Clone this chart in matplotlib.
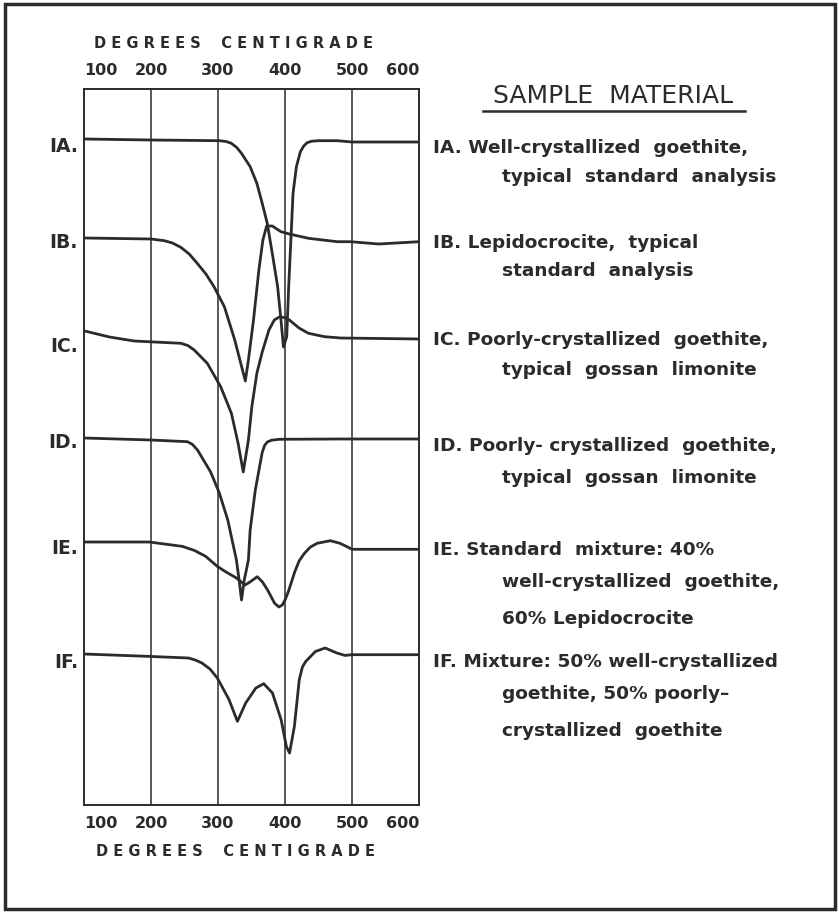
import matplotlib
matplotlib.use('Agg')
from matplotlib import pyplot as plt
from matplotlib.patches import Rectangle
from matplotlib.lines import Line2D

# temperature (deg C) and deflection for each DTA curve
temp_a = [100, 200, 302, 312, 320, 328, 335, 348, 358, 366, 373.5, 381, 389, 394, 397.7,
          402.6, 405.5, 409, 412, 417, 423, 428, 433, 440, 450, 478, 500, 600]
sig_a = [0, -1, -1.7, -2.5, -4.3, -8.5, -14.3, -27.7, -44.3, -64.3, -84.3, -114.3, -147.7,
         -181, -208, -197.7, -147.7, -97.7, -54.3, -27.7, -12.7, -7, -3.7, -2.2, -1.7, -1.7,
         -3, -3]

temp_b = [101, 200, 220, 232, 244.5, 257, 269, 282, 294, 309.5, 325, 334.6, 340.8, 345.4,
          353, 361, 367, 372.6, 381, 394, 406.5, 435, 478, 498, 540, 600]
sig_b = [0, -1, -2.7, -5, -9.3, -16, -25.3, -36, -48.7, -68.7, -102, -127, -143, -122,
         -82, -32, -2, 12, 12, 6.3, 4, -0.3, -3.7, -3.7, -6, -3.7]

temp_c = [101, 138, 175, 205, 244.5, 255, 264.5, 284, 304, 320, 330, 337.7, 345.4, 350.5,
          358, 366, 371.5, 376, 384, 391.5, 399, 406.5, 421, 435, 459, 483, 600]
sig_c = [0, -6, -10, -11, -12.3, -14.5, -19, -32.3, -55.7, -82.3, -112.3, -141, -109,
         -75.7, -42.3, -21, -9, 1, 11, 14, 13.5, 11, 3, -2.3, -5.7, -7, -8]

temp_d = [100, 200, 254.5, 262, 269.4, 289, 302, 314.6, 327.5, 331.5, 335.1, 339.2,
          345.4, 348, 355.7, 365.8, 369.5, 373.5, 380, 391.5, 478, 600]
sig_d = [0, -2, -3.7, -6.5, -12, -34, -55, -82, -122, -142, -162, -142,
         -122, -92, -52, -15, -7.5, -4, -2.2, -1.3, -1, -1]

temp_e = [100, 197.5, 247, 265, 281.7, 299, 312, 327.5, 340.4, 347.7, 358.6, 366.4, 374,
          384.5, 391, 396, 400, 404.8, 414.5, 421, 429, 438, 448, 467.6, 482, 492, 500, 600]
sig_e = [0, 0, -4.4, -8.5, -14.4, -24.4, -30, -36, -43, -40, -34.7, -40, -48,
         -61.3, -65, -63, -58, -50, -30, -19, -11.3, -5, -1.3, 1.3, -1.3, -4.5, -7.3, -7.3]

temp_f = [100, 197.5, 256, 266, 276, 288, 299, 316.5, 329, 341.3, 356.5, 368.3, 381.3,
          394.2, 402, 406.8, 414, 421.3, 426, 431, 445.5, 460, 477.4, 489.4, 500, 600]
sig_f = [0, -2.4, -4, -6, -9, -15, -24, -45.7, -67.4, -49, -34, -29.7, -39,
         -65.7, -92.4, -99, -72.4, -25.7, -13, -7.4, 2.6, 6, 1, -1.4, -0.7, -0.7]

curve_names = ['IA.', 'IB.', 'IC.', 'ID.', 'IE.', 'IF.']
descriptions = [
    ['IA. Well-crystallized  goethite,', 'typical  standard  analysis'],
    ['IB. Lepidocrocite,  typical', 'standard  analysis'],
    ['IC. Poorly-crystallized  goethite,', 'typical  gossan  limonite'],
    ['ID. Poorly- crystallized  goethite,', 'typical  gossan  limonite'],
    ['IE. Standard  mixture: 40%', 'well-crystallized  goethite,', '60% Lepidocrocite'],
    ['IF. Mixture: 50% well-crystallized', 'goethite, 50% poorly\u2013', 'crystallized  goethite'],
]
temp_ticks = [100, 200, 300, 400, 500, 600]
axis_title = 'D E G R E E S    C E N T I G R A D E'

curves = [(temp_a, sig_a), (temp_b, sig_b), (temp_c, sig_c),
          (temp_d, sig_d), (temp_e, sig_e), (temp_f, sig_f)]
offsets = [-50, -149, -242, -349, -453, -565]
label_y = [-58, -154, -258, -354, -459, -573]
desc_y = [[148, 177], [243, 271], [340, 370], [446, 478], [550, 582, 619], [662, 694, 731]]

W, H = 839, 914
ink = '#2b2b2b'
plt.rcParams['font.family'] = ['DejaVu Sans']

fig = plt.figure(figsize=(W / 100, H / 100), dpi=100)
ax = fig.add_axes([84 / W, 1 - 805 / H, (419 - 84) / W, (805 - 89) / H])
ax.set_xlim(100, 600)
ax.set_ylim(-716, 0)
ax.set_yticks([])
for x in temp_ticks[1:-1]:
    ax.axvline(x, color=ink, lw=1.1)
for s in ax.spines.values():
    s.set_color(ink)
    s.set_linewidth(1.4)

for (t, s), off in zip(curves, offsets):
    ax.plot(t, [off + v for v in s], color=ink, lw=2.0,
            solid_joinstyle='round', solid_capstyle='round')

ax.set_xticks(temp_ticks)
ax.set_xticklabels([str(v) for v in temp_ticks])
ax.tick_params(axis='x', length=0, top=True, labeltop=True, labelsize=11.5,
               colors=ink, pad=8)
for tick in ax.xaxis.get_major_ticks():
    tick.label1.set_fontweight('bold')
    tick.label2.set_fontweight('bold')
ax.xaxis.get_major_ticks()[0].label1.set_ha('left')
ax.xaxis.get_major_ticks()[0].label2.set_ha('left')
ax.xaxis.get_major_ticks()[-1].label1.set_ha('right')
ax.xaxis.get_major_ticks()[-1].label2.set_ha('right')

fig.text(233 / W, 1 - 43 / H, axis_title, ha='center', va='center',
         fontsize=10.5, fontweight='bold', color=ink)
fig.text(236 / W, 1 - 852 / H, axis_title, ha='center', va='center',
         fontsize=10.5, fontweight='bold', color=ink)

for name, ly in zip(curve_names, label_y):
    ax.text(91, ly, name, ha='right', va='center', fontsize=13.5,
            fontweight='bold', color=ink, clip_on=False)

fig.text(613 / W, 1 - 96 / H, 'SAMPLE  MATERIAL', ha='center', va='center',
         fontsize=18, color=ink)
fig.add_artist(Line2D([483 / W, 745 / W], [1 - 111 / H, 1 - 111 / H],
                      transform=fig.transFigure, color=ink, lw=1.8))

for lines, ys in zip(descriptions, desc_y):
    for i, (txt, y) in enumerate(zip(lines, ys)):
        x = 433 if i == 0 else 502
        fig.text(x / W, 1 - y / H, txt, ha='left', va='center',
                 fontsize=13.3, fontweight='bold', color=ink)

fig.add_artist(Rectangle((5 / W, 1 - 909 / H), 830 / W, 905 / H,
                         transform=fig.transFigure, fill=False,
                         edgecolor=ink, lw=2.5))

fig.savefig('out.png', dpi=100, facecolor='white')
